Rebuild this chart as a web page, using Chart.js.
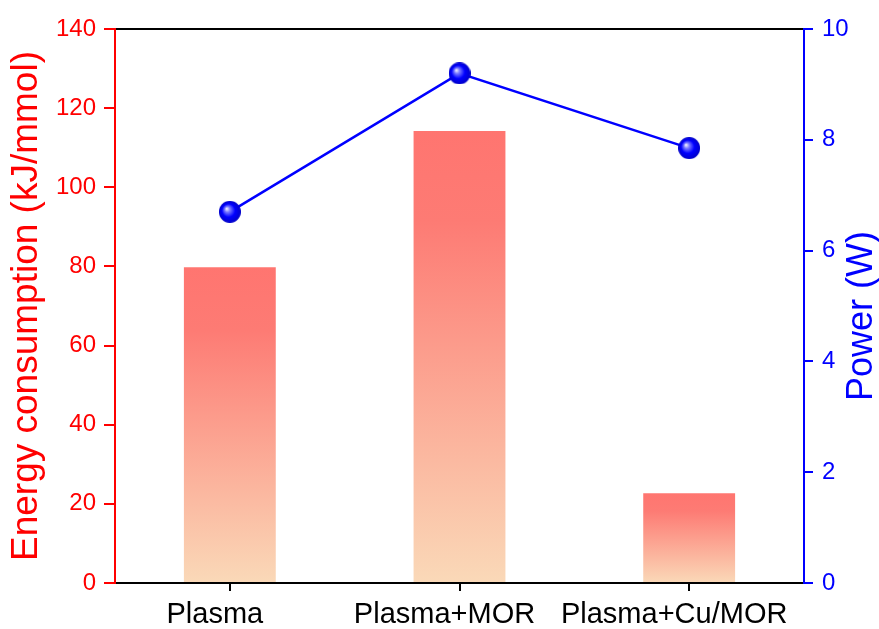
<!DOCTYPE html>
<html>
<head>
<meta charset="utf-8">
<script src="https://cdn.jsdelivr.net/npm/chart.js@4"></script>
<style>
  html, body { margin: 0; padding: 0; background: #fff; }
  #wrap { width: 879px; height: 629px; }
</style>
</head>
<body>
<div id="wrap"><canvas id="chart" width="879" height="629"></canvas></div>
<script>
// 数据
const categories = ['Plasma', 'Plasma+MOR', 'Plasma+Cu/MOR'];
const energyValues = [79.8, 114.2, 22.7];
const powerValues = [6.7, 9.2, 7.85];
const energyTicks = [0, 20, 40, 60, 80, 100, 120, 140];
const powerTicks = [0, 2, 4, 6, 8, 10];
const powerTitle = 'Power (W)';

const FONT = "'Liberation Sans', Arial, sans-serif";

// 蓝色小球标记
function makeSphere(r) {
    const c = document.createElement('canvas');
    c.width = r * 2;
    c.height = r * 2;
    const g = c.getContext('2d');
    const grad = g.createRadialGradient(r * 0.7, r * 0.7, 0, r, r, r);
    grad.addColorStop(0, '#ffffff');
    grad.addColorStop(0.25, '#7a7aff');
    grad.addColorStop(0.6, '#0000ff');
    grad.addColorStop(1, '#0000c8');
    g.fillStyle = grad;
    g.beginPath();
    g.arc(r, r, r, 0, Math.PI * 2);
    g.fill();
    return c;
}
const sphere = makeSphere(11);

// 柱子渐变
function barGradient(ctx) {
    const chart = ctx.chart;
    if (!chart.chartArea || ctx.type !== 'data') return '#ff7570';
    const y = chart.scales.y;
    const top = y.getPixelForValue(ctx.raw);
    const bottom = y.getPixelForValue(0);
    const g = chart.ctx.createLinearGradient(0, top, 0, bottom);
    g.addColorStop(0, '#ff7570');
    g.addColorStop(0.2, '#fd7b74');
    g.addColorStop(1, '#fad9b8');
    return g;
}

function fixTicks(values) {
    return function(scale) {
        scale.ticks = values.map(v => ({ value: v }));
    };
}

// 右轴标题（自下而上）
const rightTitlePlugin = {
    id: 'rightTitle',
    afterDraw(chart) {
        const c = chart.ctx;
        const area = chart.chartArea;
        c.save();
        c.translate(872, (area.top + area.bottom) / 2 + 10);
        c.rotate(-Math.PI / 2);
        c.fillStyle = '#0000ff';
        c.font = '36px ' + FONT;
        c.textAlign = 'center';
        c.textBaseline = 'alphabetic';
        c.fillText(powerTitle, 0, 0);
        c.restore();
    }
};

const ctx = document.getElementById('chart').getContext('2d');
const chart = new Chart(ctx, {
    type: 'bar',
    data: {
        labels: categories,
        datasets: [{
            type: 'line',
            data: powerValues,
            yAxisID: 'y1',
            borderColor: '#0000ff',
            borderWidth: 2.5,
            pointStyle: sphere,
            pointRadius: 11,
            pointHoverRadius: 11,
            tension: 0,
            clip: false,
            order: 0
        }, {
            type: 'bar',
            data: energyValues,
            yAxisID: 'y',
            backgroundColor: barGradient,
            barPercentage: 0.4,
            categoryPercentage: 1,
            order: 1
        }]
    },
    options: {
        responsive: false,
        animation: false,
        layout: { padding: 0 },
        plugins: {
            legend: { display: false },
            tooltip: { enabled: false }
        },
        scales: {
            x: {
                position: 'bottom',
                grid: { drawOnChartArea: false, offset: false, color: '#000', lineWidth: 2, tickLength: 8 },
                border: { color: '#000', width: 2 },
                ticks: { color: '#000', font: { family: FONT, size: 29 }, padding: 7, labelOffset: -15, maxRotation: 0 },
                afterFit: s => { s.height = 46; }
            },
            xTop: {
                position: 'top',
                grid: { display: false },
                border: { color: '#000', width: 2 },
                ticks: { display: false },
                afterFit: s => { s.height = 29; }
            },
            y: {
                position: 'left',
                min: 0,
                max: 140,
                afterBuildTicks: fixTicks(energyTicks),
                grid: { drawOnChartArea: false, color: '#ff0000', lineWidth: 2, tickLength: 11 },
                border: { color: '#ff0000', width: 2 },
                ticks: { color: '#ff0000', font: { family: FONT, size: 24 }, padding: 8 },
                title: {
                    display: true,
                    text: 'Energy consumption (kJ/mmol)',
                    color: '#ff0000',
                    font: { family: FONT, size: 37 },
                    padding: { top: 5, bottom: 0 }
                },
                afterFit: s => { s.width = 115; }
            },
            y1: {
                position: 'right',
                min: 0,
                max: 10,
                afterBuildTicks: fixTicks(powerTicks),
                grid: { drawOnChartArea: false, color: '#0000ff', lineWidth: 2, tickLength: 9 },
                border: { color: '#0000ff', width: 2 },
                ticks: { color: '#0000ff', font: { family: FONT, size: 24 }, padding: 9 },
                afterFit: s => { s.width = 75; }
            }
        }
    },
    plugins: [rightTitlePlugin]
});
</script>
</body>
</html>
